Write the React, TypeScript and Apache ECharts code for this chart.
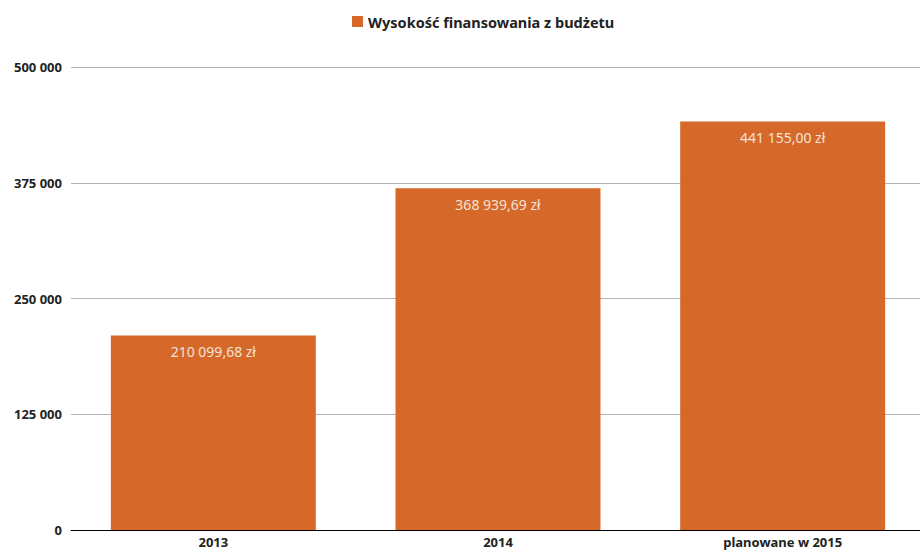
import React, { useEffect, useRef } from "react";
import * as echarts from "echarts";

const categories = ["2013", "2014", "planowane w 2015"];
const values = [210099.68, 368939.69, 441155.0];
const seriesName = "Wysokość finansowania z budżetu";
const yTicks = [0, 125000, 250000, 375000, 500000];

const fmtInt = (v: number) =>
  Math.round(v).toString().replace(/\B(?=(\d{3})+(?!\d))/g, " ");
const fmtMoney = (v: number) => {
  const [i, d] = v.toFixed(2).split(".");
  return i.replace(/\B(?=(\d{3})+(?!\d))/g, " ") + "," + d + " zł";
};

export default function App() {
  const ref = useRef<HTMLDivElement>(null);
  useEffect(() => {
    const chart = echarts.init(ref.current!, null, { renderer: "svg" });
    chart.setOption({
      animation: false,
      textStyle: { fontFamily: "Noto Sans" },
      legend: {
        top: 9,
        left: 347,
        itemWidth: 11,
        itemHeight: 11,
        icon: "rect",
        itemGap: 9,
        textStyle: { fontSize: 14.5, fontWeight: "bold", color: "#222" },
        data: [seriesName],
      },
      grid: { left: 71, right: 5, top: 67, bottom: 20, containLabel: false },
      xAxis: {
        type: "category",
        data: categories,
        axisLine: { lineStyle: { color: "#000", width: 1 } },
        axisTick: { show: false },
        axisLabel: { fontSize: 13, fontWeight: "bold", color: "#222", margin: 5 },
      },
      yAxis: {
        type: "value",
        min: yTicks[0],
        max: yTicks[yTicks.length - 1],
        interval: yTicks[1] - yTicks[0],
        axisLine: { show: false },
        axisTick: { show: false },
        splitLine: { lineStyle: { color: "#b3b3b3" } },
        axisLabel: { fontSize: 13, fontWeight: "bold", color: "#222", margin: 9, formatter: (v: number) => fmtInt(v) },
      },
      series: [
        {
          name: seriesName,
          type: "bar",
          data: values,
          barCategoryGap: "28%",
          itemStyle: { color: "#d6692a" },
          label: {
            show: true,
            position: "insideTop",
            distance: 9,
            color: "#f3e3d6",
            fontSize: 14,
            formatter: (p: any) => fmtMoney(p.value),
          },
        },
      ],
    });
    return () => chart.dispose();
  }, []);
  return (
    <div style={{ width: 920, height: 550, position: "absolute", left: 0, top: 0, overflow: "hidden" }}>
      <div ref={ref} style={{ width: 930, height: 550 }} />
    </div>
  );
}
